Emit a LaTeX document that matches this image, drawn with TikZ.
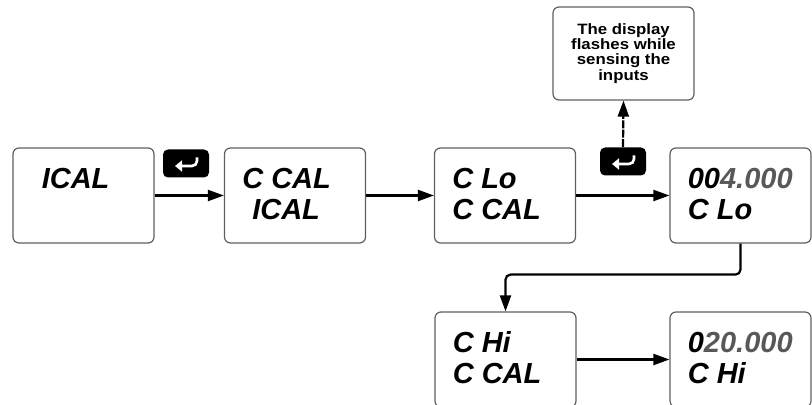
\documentclass[tikz,border=0pt]{standalone}
\usepackage{fontspec}
\usepackage{tikz}
\usetikzlibrary{arrows.meta,calc}
\newfontfamily\lcdfont{Liberation Sans}
\newfontfamily\notefont[FakeStretch=1.12]{Liberation Sans}
\definecolor{framegray}{RGB}{95,95,95}
\definecolor{dimdigit}{RGB}{88,88,88}
\newcommand{\faint}[1]{\textcolor{dimdigit}{#1}}
\newcommand{\lcdbox}[4]{\node[lcdframe] (#1) at (#2) {};
	\node[lcdtext] (#1top) at ($(#1.north west)+(18,41)$) {#3};
	\node[lcdtext] (#1bot) at ($(#1.north west)+(18,72)$) {#4};}
\newcommand{\enterkey}[2]{\node[keycap] (#1) at (#2) {};
	\draw[keyglyph] ($(#1)+(11,-6)$) -- ++(0,8.5) -- ++(-22,0);}

\begin{document}
\begin{tikzpicture}[x=0.5pt,y=-0.5pt,
	lcdframe/.style={draw=framegray,line width=0.6pt,rounded corners=3pt,minimum width=70.5pt,minimum height=47.5pt,inner sep=0pt},
	lcdtext/.style={anchor=base west,inner sep=0pt,font=\lcdfont\bfseries\itshape\fontsize{14.5}{16}\selectfont},
	keycap/.style={fill=black,rounded corners=2.5pt,minimum width=23pt,minimum height=14pt,inner sep=0pt},
	keyglyph/.style={white,line width=1.3pt,rounded corners=2.5pt,-{Triangle[length=3.5pt,width=5.5pt]}},
	notebox/.style={draw=framegray,line width=0.6pt,rounded corners=3pt,minimum width=70.5pt,minimum height=46.5pt,inner sep=0pt,align=center,font=\notefont\bfseries\fontsize{7.5}{7.6}\selectfont},
	flow/.style={line width=1.1pt,-{Triangle[length=8pt,width=5.5pt]}}]
		\useasboundingbox (0,0) rectangle (812,405);
		\lcdbox{b1}{83.5,195.5}{\hspace{5.5pt}ICAL}{}
		\lcdbox{b2}{295,195.5}{C CAL}{\hspace{5pt}ICAL}
		\lcdbox{b3}{505,195.5}{C Lo}{C CAL}
		\lcdbox{b4}{740.5,195.5}{00\faint{4.000}}{C Lo}
		\lcdbox{b5}{505.5,359.5}{C Hi}{C CAL}
		\lcdbox{b6}{740.5,359.5}{0\faint{20.000}}{C Hi}
		\enterkey{k1}{186,163.5}
		\enterkey{k2}{623,161.5}
		\node[notebox] (note) at (623.5,53.5) {The display\\flashes while\\sensing the\\inputs};
		\draw[flow] (b1.east) -- (b2.west);
		\draw[flow] (b2.east) -- (b3.west);
		\draw[flow] (b3.east) -- (b4.west);
		\draw[flow,rounded corners=2.5pt] (b4.south) -- ++(0,31) -| (b5.north);
		\draw[flow] (b5.east) -- (b6.west);
		\draw[flow,dash pattern=on 4pt off 0.7pt] (k2.north) -- (note.south);
\end{tikzpicture}
\end{document}
